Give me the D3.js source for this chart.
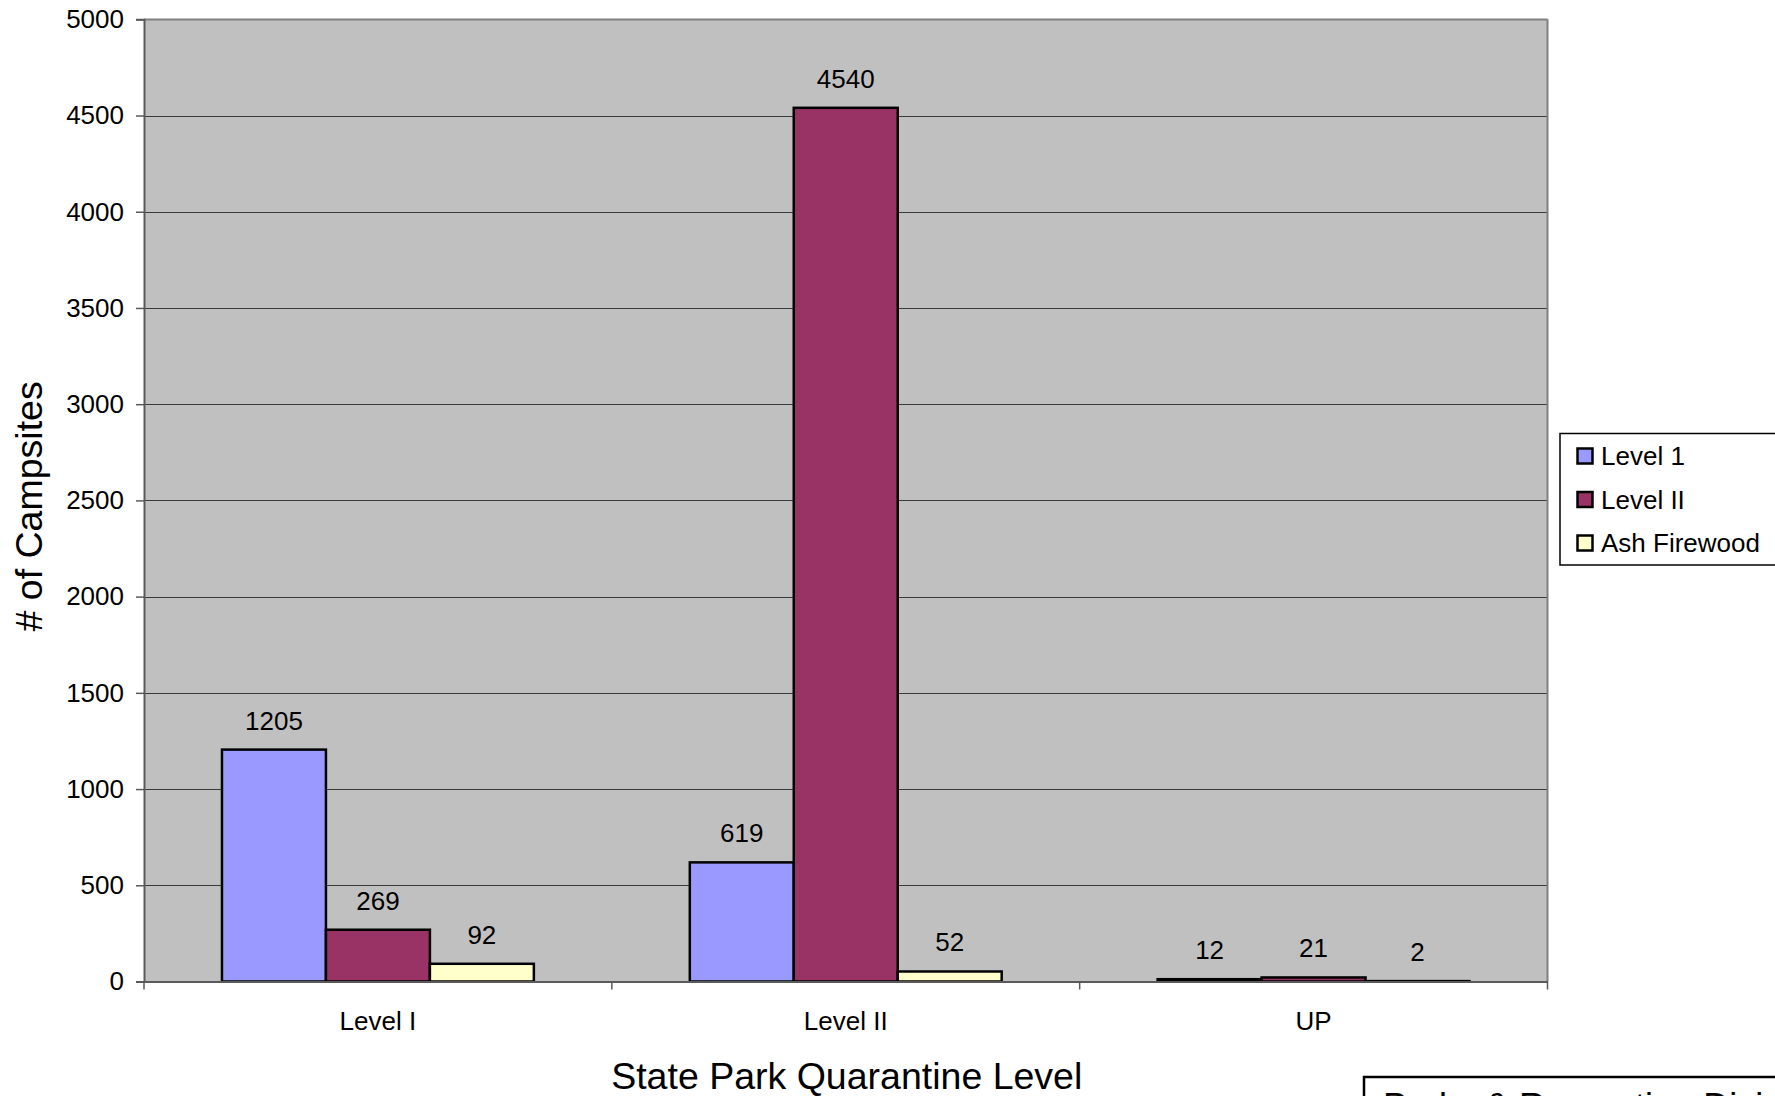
<!DOCTYPE html>
<html>
<head>
<meta charset="utf-8">
<script src="https://cdn.jsdelivr.net/npm/d3@7/dist/d3.min.js"></script>
<style>
  html, body { margin: 0; padding: 0; background: #fff; }
  svg { display: block; font-family: "Liberation Sans", Arial, sans-serif; }
</style>
</head>
<body>
<svg id="chart" width="1775" height="1096"></svg>
<script>
const categories = ["Level I", "Level II", "UP"];
const seriesNames = ["Level 1", "Level II", "Ash Firewood"];
const level1Values = [1205, 619, 12];
const level2Values = [269, 4540, 21];
const ashValues = [92, 52, 2];
const yTicks = [0, 500, 1000, 1500, 2000, 2500, 3000, 3500, 4000, 4500, 5000];
const colors = ["#9999FF", "#993366", "#FFFFCC"];

(function () {
const seriesValues = [level1Values, level2Values, ashValues];
const data = categories.map((c, i) => ({
  category: c,
  values: seriesNames.map((s, j) => ({ series: s, value: seriesValues[j][i], color: colors[j] }))
}));

const svg = d3.select("#chart");
const pL = 144, pR = 1547.5, pT = 19.3, pB = 981.5;

const x0 = d3.scaleBand().domain(categories).range([pL, pR]).paddingInner(0).paddingOuter(0);
const x1 = d3.scaleBand().domain(seriesNames).range([0, x0.bandwidth()]).paddingInner(0).paddingOuter(0.75);
const y = d3.scaleLinear().domain([0, 5000]).range([pB, pT]);

// plot background
svg.append("rect").attr("x", pL).attr("y", pT).attr("width", pR - pL).attr("height", pB - pT)
  .attr("fill", "#C0C0C0");

// gridlines
svg.append("g").selectAll("line").data(yTicks.filter(t => t > 0)).join("line")
  .attr("x1", pL).attr("x2", pR)
  .attr("y1", d => Math.round(y(d)) + 0.5).attr("y2", d => Math.round(y(d)) + 0.5)
  .attr("stroke", d => d === 5000 ? "#808080" : "#3a3a3a")
  .attr("stroke-width", d => d === 5000 ? 2 : 1);

// right border
svg.append("line").attr("x1", pR).attr("x2", pR).attr("y1", pT).attr("y2", pB)
  .attr("stroke", "#808080").attr("stroke-width", 2);

// bars
const groups = svg.append("g").selectAll("g").data(data).join("g")
  .attr("transform", d => `translate(${x0(d.category)},0)`);
groups.selectAll("rect").data(d => d.values).join("rect")
  .attr("x", d => x1(d.series))
  .attr("y", d => y(d.value))
  .attr("width", x1.bandwidth())
  .attr("height", d => y(0) - y(d.value))
  .attr("fill", d => d.color)
  .attr("stroke", "#000")
  .attr("stroke-width", 2.5);

// value labels
groups.selectAll("text").data(d => d.values).join("text")
  .attr("x", d => x1(d.series) + x1.bandwidth() / 2)
  .attr("y", d => y(d.value) - 20)
  .attr("text-anchor", "middle")
  .attr("font-size", 26)
  .attr("fill", "#000")
  .text(d => d.value);

// y axis
const yAxis = d3.axisLeft(y).tickValues(yTicks).tickSize(8).tickPadding(12).tickFormat(d3.format("d"));
const gy = svg.append("g").attr("transform", `translate(${pL},0)`).call(yAxis);
gy.select(".domain").attr("stroke", "#5a5a5a").attr("stroke-width", 2);
gy.selectAll(".tick line").attr("stroke", "#5a5a5a").attr("stroke-width", 1.5);
gy.selectAll(".tick text").attr("font-size", 26).attr("fill", "#000")
  .attr("font-family", '"Liberation Sans", Arial, sans-serif');

// x axis
const xAxis = d3.axisBottom(x0).tickSize(0).tickPadding(0);
const gx = svg.append("g").attr("transform", `translate(0,${pB})`).call(xAxis);
gx.select(".domain").attr("stroke", "#5a5a5a").attr("stroke-width", 2);
gx.selectAll(".tick text").attr("font-size", 26).attr("fill", "#000").attr("dy", null)
  .attr("y", 1030 - pB).attr("font-family", '"Liberation Sans", Arial, sans-serif');
// boundary ticks
const boundaries = categories.map(c => x0(c)).concat([x0(categories[categories.length - 1]) + x0.bandwidth()]);
gx.append("g").selectAll("line").data(boundaries).join("line")
  .attr("x1", d => d).attr("x2", d => d).attr("y1", 0).attr("y2", 8)
  .attr("stroke", "#5a5a5a").attr("stroke-width", 1.5);

// axis titles
svg.append("text").attr("x", (pL + pR) / 2 + 1).attr("y", 1089)
  .attr("text-anchor", "middle").attr("font-size", 37.5).attr("fill", "#000")
  .text("State Park Quarantine Level");
svg.append("text").attr("transform", `translate(42,${(pT + pB) / 2 + 6}) rotate(-90)`)
  .attr("text-anchor", "middle").attr("font-size", 37.5).attr("fill", "#000")
  .text("# of Campsites");

// legend
const lg = svg.append("g");
lg.append("rect").attr("x", 1560).attr("y", 433.5).attr("width", 230).attr("height", 131.5)
  .attr("fill", "#fff").attr("stroke", "#000").attr("stroke-width", 1.5);
const items = lg.selectAll("g").data(seriesNames).join("g")
  .attr("transform", (d, i) => `translate(0,${465 + i * 43.5})`);
items.append("rect").attr("x", 1577.5).attr("y", -16.5).attr("width", 15).attr("height", 15)
  .attr("fill", (d, i) => colors[i]).attr("stroke", "#000").attr("stroke-width", 2.5);
items.append("text").attr("x", 1601).attr("y", 0).attr("font-size", 26).attr("fill", "#000").text(d => d);

// bottom-right source box (cut off at the page edge, as in the reference)
svg.append("rect").attr("x", 1364).attr("y", 1077).attr("width", 430).attr("height", 80)
  .attr("fill", "#fff").attr("stroke", "#000").attr("stroke-width", 2.5);
svg.append("text").attr("x", 1383).attr("y", 1119).attr("font-size", 36).attr("fill", "#000")
  .text("Parks & Recreation Division");
})();
</script>
</body>
</html>
